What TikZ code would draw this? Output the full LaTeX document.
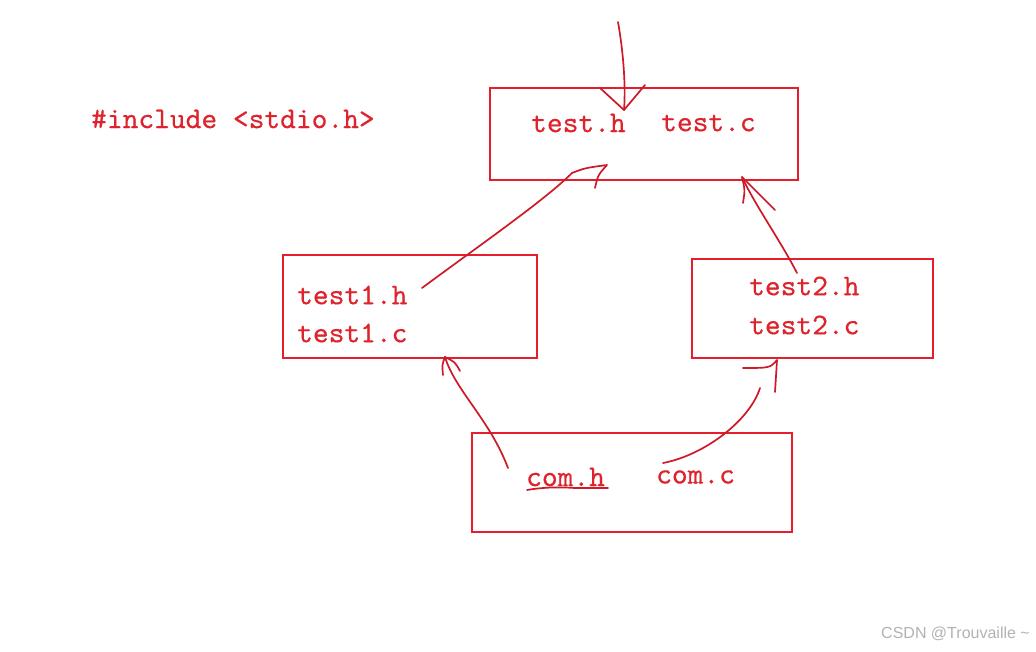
\documentclass[tikz,border=0pt]{standalone}
\usepackage{fontspec}
\setmainfont{Liberation Serif}
\newfontfamily\codefont{lmmono10-regular.otf}[FakeBold=0.35]
\newfontfamily\wmfont{Liberation Sans}
\usetikzlibrary{arrows.meta}
\definecolor{boxred}{RGB}{228,30,42}
\definecolor{txtred}{RGB}{222,35,45}
\definecolor{penred}{RGB}{205,25,40}
\tikzset{
  fbox/.style={draw=boxred, line width=2.8pt, fill=none},
  code/.style={font=\codefont\fontsize{30}{32}\selectfont, text=txtred, inner sep=0pt, anchor=west},
  hand/.style={draw=penred, line width=1.7pt, line cap=round, line join=round},
}
\begin{document}
\begin{tikzpicture}[x=1pt,y=-1pt]
\useasboundingbox (0,0) rectangle (1036,652);
\fill[white] (0,0) rectangle (1036,652);
% boxes
\draw[fbox] (490,88) rectangle (798,180);
\draw[fbox] (283,255) rectangle (537,358);
\draw[fbox] (692,259) rectangle (933,358);
\draw[fbox] (472,433) rectangle (792,532);
% texts
\node[code] (inc) at (91,119) {\#include <stdio.h>};
\node[code] (th) at (531,123) {test.h};
\node[code] (tc) at (661,123) {test.c};
\node[code] (t1h) at (297,295) {test1.h};
\node[code] (t1c) at (297,333) {test1.c};
\node[code] (t2h) at (749,286) {test2.h};
\node[code] (t2c) at (749,325) {test2.c};
\node[code] (ch) at (526,477) {com.h};
\node[code] (cc) at (656,477) {com.c};
\node[font=\wmfont\fontsize{16}{18}\selectfont, text=black!30, anchor=east, inner sep=0pt] (wm) at (1030,634) {CSDN @Trouvaille \textasciitilde};
% named points of the hand-drawn arrows
\coordinate (topin) at (618,22);
\coordinate (tophead) at (624,110);
\coordinate (topa1) at (600,88);
\coordinate (topa2) at (645,85);
\coordinate (t1start) at (422,288);
\coordinate (t1end) at (607,165);
\coordinate (t1a1) at (572,173);
\coordinate (t1a2) at (595,188);
\coordinate (t2start) at (797,273);
\coordinate (t2end) at (742,177);
\coordinate (t2a1) at (743,203);
\coordinate (t2a2) at (775,210);
\coordinate (chstart) at (508,468);
\coordinate (b1end) at (445,357);
\coordinate (b1a1) at (443,375);
\coordinate (b1a2) at (460,371);
\coordinate (ccstart) at (663,463);
\coordinate (b2shaft) at (760,388);
\coordinate (b2end) at (777,360);
\coordinate (b2a1) at (743,368);
\coordinate (b2a2) at (775,392);
% shafts
\draw[hand] (topin) .. controls (623,50) and (626,85) .. (tophead);
\draw[hand] (t1start) .. controls (480,245) and (545,200) .. (t1a1);
\draw[hand] (t2start) .. controls (780,240) and (755,205) .. (t2end);
\draw[hand] (chstart) .. controls (490,420) and (455,390) .. (b1end);
\draw[hand] (ccstart) .. controls (705,455) and (750,420) .. (b2shaft);
% heads
\draw[hand] (topa1) -- (tophead) -- (topa2);
\draw[hand] (t1a1) .. controls (585,168) .. (t1end) .. controls (598,175) .. (t1a2);
\draw[hand] (t2a1) .. controls (745,190) .. (t2end) .. controls (760,195) .. (t2a2);
\draw[hand] (b1a1) .. controls (442,365) .. (b1end) .. controls (455,362) .. (b1a2);
\draw[hand] (b2a1) .. controls (770,368) .. (b2end) -- (b2a2);
% underline under com.h
\draw[hand] (527,490) .. controls (545,487) and (560,487) .. (575,488) -- (608,488);
\end{tikzpicture}
\end{document}
